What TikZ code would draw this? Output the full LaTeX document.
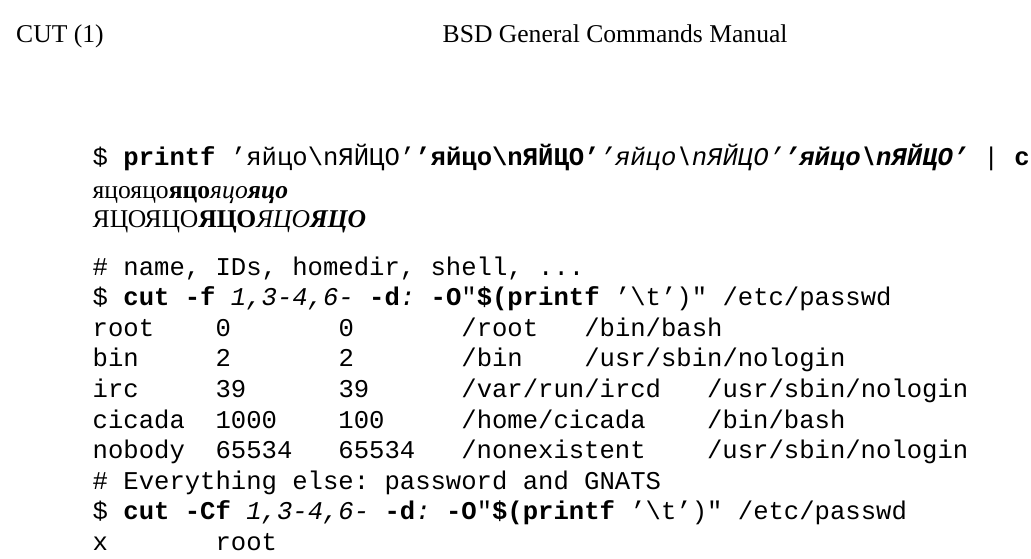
\documentclass[tikz,border=0pt]{standalone}
\usepackage{fontspec}
\setmainfont{Liberation Serif}
\setmonofont{Liberation Mono}
\newcommand{\bsl}{\textbackslash}
\newcommand{\egg}{’яйцо\bsl nЯЙЦО’}
\tikzset{
  manpage/.style={anchor=base west,inner sep=0pt,font=\rmfamily\fontsize{25.6pt}{30.6pt}\selectfont},
  manmono/.style={manpage,font=\ttfamily\fontsize{25.6pt}{30.6pt}\selectfont}
}

\begin{document}
\begin{tikzpicture}[x=1pt,y=-1pt]
\useasboundingbox (0,0) rectangle (1031,559);
\clip (0,0) rectangle (1031,559);

% page header
\node[manpage] (hdLeft) at (16,43) {CUT (1)};
\node[manpage] (hdMid) at (442.5,43) {BSD General Commands Manual};

% printf example and its output
\node[manmono] (cmdEgg) at (92.5,166) {\$ \textbf{printf} \egg\textbf{\egg}\textit{\egg}\textbf{\textit{\egg}} | \textbf{cut}};
\node[manpage] (outLow) at (92.5,198) {яцояцо\textbf{яцо}\textit{яцо}\textbf{\textit{яцо}}};
\node[manpage] (outUp) at (92.5,227) {ЯЦОЯЦО\textbf{ЯЦО}\textit{ЯЦО}\textbf{\textit{ЯЦО}}};

% passwd example
\node[manmono] (cmtFields) at (92.5,275) {\# name, IDs, homedir, shell, ...};
\node[manmono] (cmdCut) at (92.5,305.6) {\$ \textbf{cut} \textbf{-f} \textit{1,3-4,6-} \textbf{-d}\textit{:} \textbf{-O}"\textbf{\$(printf} ’\bsl t’)" /etc/passwd};
\foreach \txt [count=\i] in {
  root~~~~0~~~~~~~0~~~~~~~/root~~~/bin/bash,
  bin~~~~~2~~~~~~~2~~~~~~~/bin~~~~/usr/sbin/nologin,
  irc~~~~~39~~~~~~39~~~~~~/var/run/ircd~~~/usr/sbin/nologin,
  cicada~~1000~~~~100~~~~~/home/cicada~~~~/bin/bash,
  nobody~~65534~~~65534~~~/nonexistent~~~~/usr/sbin/nologin}
  \node[manmono] (row\i) at (92.5,305.6+30.6*\i) {\txt};
\node[manmono] (cmtRest) at (92.5,489.2) {\# Everything else: password and GNATS};
\node[manmono] (cmdCutC) at (92.5,519.8) {\$ \textbf{cut} \textbf{-Cf} \textit{1,3-4,6-} \textbf{-d}\textit{:} \textbf{-O}"\textbf{\$(printf} ’\bsl t’)" /etc/passwd};
\node[manmono] (rowX) at (92.5,550.4) {x~~~~~~~root};

\end{tikzpicture}
\end{document}
